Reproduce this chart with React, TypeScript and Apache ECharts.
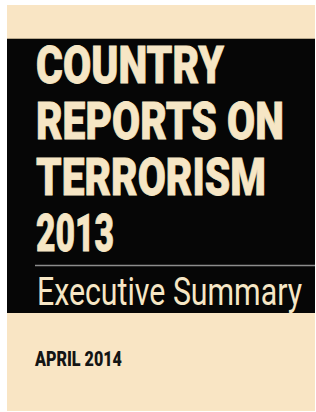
import React, { useEffect, useRef } from "react";
import * as echarts from "echarts";

const titleLines = ["COUNTRY", "REPORTS ON", "TERRORISM", "2013"];
const subtitle = "Executive Summary";
const dateLine = "APRIL 2014";

const W = 316;
const H = 412;

function measure(text: string, font: string): number {
  const ctx = document.createElement("canvas").getContext("2d");
  if (!ctx) return text.length * 10;
  ctx.font = font;
  return ctx.measureText(text).width;
}

export default function App() {
  const ref = useRef<HTMLDivElement>(null);

  useEffect(() => {
    if (!ref.current) return;
    const chart = echarts.init(ref.current, undefined, { renderer: "svg" });

    const beige = "#f9e5c4";
    const cream = "#f6e6c5";
    const black = "#060606";

    const titleFont = "900 52px Roboto";
    const titleWidths = [188, 248, 230, 78];
    const titleCenters = [65, 121, 177, 233];
    const left = 36;

    const titleEls = titleLines.map((t, i) => {
      const w = measure(t, titleFont);
      return {
        type: "text",
        x: left,
        y: titleCenters[i],
        scaleX: titleWidths[i] / w,
        style: {
          text: t,
          fill: cream,
          stroke: cream,
          lineWidth: 0.8,
          font: titleFont,
          align: "left",
          verticalAlign: "middle",
        },
      };
    });

    const subFont = "normal 39px Roboto";
    const subW = measure(subtitle, subFont);
    const dateFont = "900 20px Roboto";
    const dateW = measure(dateLine, dateFont);

    chart.setOption({
      animation: false,
      backgroundColor: "#ffffff",
      graphic: [
        { type: "rect", shape: { x: 7, y: 5, width: 308, height: 35 }, style: { fill: beige } },
        { type: "rect", shape: { x: 7, y: 38, width: 308, height: 2 }, style: { fill: "#b8a88c" } },
        { type: "rect", shape: { x: 7, y: 39, width: 308, height: 274 }, style: { fill: black } },
        { type: "rect", shape: { x: 7, y: 313, width: 308, height: 98 }, style: { fill: beige } },
        ...titleEls,
        {
          type: "line",
          shape: { x1: 35, y1: 265.5, x2: 315, y2: 265.5 },
          style: { stroke: "#8c8c8c", lineWidth: 1.5 },
        },
        {
          type: "text",
          x: 37,
          y: 292,
          scaleX: 265 / subW,
          style: { text: subtitle, fill: cream, font: subFont, align: "left", verticalAlign: "middle" },
        },
        {
          type: "text",
          x: 35,
          y: 359,
          scaleX: 87 / dateW,
          style: { text: dateLine, fill: "#141414", font: dateFont, align: "left", verticalAlign: "middle" },
        },
      ],
    });

    return () => chart.dispose();
  }, []);

  return (
    <div
      ref={ref}
      style={{ position: "fixed", left: 0, top: 0, width: W, height: H }}
    />
  );
}
